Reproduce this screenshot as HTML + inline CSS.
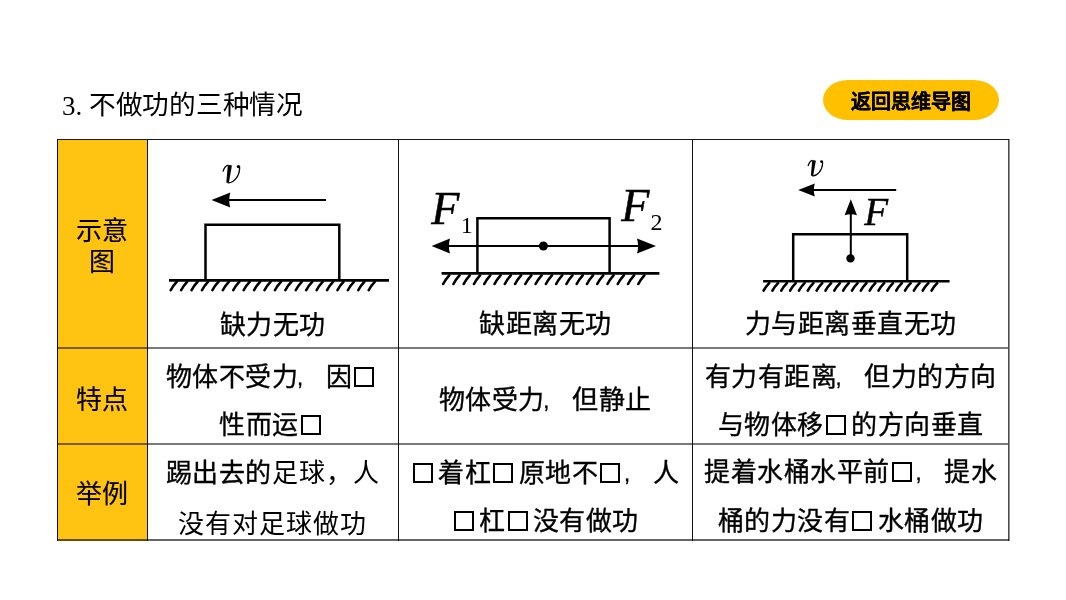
<!DOCTYPE html>
<html lang="zh-CN"><head><meta charset="utf-8"><style>
html,body{margin:0;padding:0;background:#fff;}
body{width:1066px;height:600px;position:relative;overflow:hidden;font-family:"Liberation Sans",sans-serif;color:#000;}
#wrap{position:absolute;left:0;top:0;width:1066px;height:600px;will-change:transform;}
.t{position:absolute;white-space:nowrap;text-align:center;font-size:26px;line-height:30px;letter-spacing:0.5px;text-indent:0.5px;-webkit-text-stroke:0.35px #000;}
.b{display:inline-block;width:16px;height:16px;border:2px solid #000;vertical-align:-1px;margin:0 5.3px 0 2px;}
.cm{display:inline-block;width:27.3px;text-align:left;padding-left:0;text-indent:-1.5px;vertical-align:1px;box-sizing:border-box;letter-spacing:0;font-size:22px;}
.lt{-webkit-text-stroke:0;color:#000;letter-spacing:1.1px;}
#title{position:absolute;left:62px;top:90px;font-size:26.67px;line-height:30px;white-space:nowrap;letter-spacing:-0.3px;}
#title .n{font-family:"Liberation Serif",serif;position:relative;top:1px;font-size:27px;letter-spacing:0;}
#pill{position:absolute;left:822.5px;top:79.5px;width:176px;height:40px;border-radius:25px/20px;background:#FFC000;}
#pill span{position:absolute;left:0;right:0;top:0;text-align:center;font-weight:bold;font-size:20px;-webkit-text-stroke:0.2px #000;line-height:40px;top:2.5px;}
svg{position:absolute;left:0;top:0;}
</style></head><body><div id="wrap">
<svg width="1066" height="600" viewBox="0 0 1066 600"><rect x="57" y="139" width="90" height="402" fill="#FFC312"/><rect x="57" y="139" width="952" height="1" fill="#1a1a1a"/><rect x="57" y="347" width="951" height="2" fill="rgba(0,0,0,0.52)"/><rect x="57" y="443" width="951" height="2" fill="rgba(0,0,0,0.52)"/><rect x="57" y="539" width="952" height="2" fill="rgba(0,0,0,0.6)"/><rect x="57" y="139" width="1" height="402" fill="#111"/><rect x="147" y="139" width="1" height="402" fill="#111"/><rect x="398" y="139" width="1" height="402" fill="#111"/><rect x="692" y="139" width="1" height="402" fill="#111"/><rect x="1008" y="139" width="1.6" height="402" fill="rgba(0,0,0,0.7)"/><g fill="none" stroke="#000" stroke-width="2.5"><path d="M205.5 280V224.8H339.3V280"/><path d="M169 280.4H389" stroke-width="2.6"/><path d="M222 200H326" stroke-width="2"/></g><path d="M211.5 200L230.3 192.4Q228.10000000000002 200 230.3 207.6Z" fill="#000"/><path d="M170.70 290.2Q172.56 286.30 176.90 281.6M181.12 290.2Q182.98 286.30 187.32 281.6M191.54 290.2Q193.40 286.30 197.74 281.6M201.96 290.2Q203.82 286.30 208.16 281.6M212.38 290.2Q214.24 286.30 218.58 281.6M222.80 290.2Q224.66 286.30 229.00 281.6M233.22 290.2Q235.08 286.30 239.42 281.6M243.64 290.2Q245.50 286.30 249.84 281.6M254.06 290.2Q255.92 286.30 260.26 281.6M264.48 290.2Q266.34 286.30 270.68 281.6M274.90 290.2Q276.76 286.30 281.10 281.6M285.32 290.2Q287.18 286.30 291.52 281.6M295.74 290.2Q297.60 286.30 301.94 281.6M306.16 290.2Q308.02 286.30 312.36 281.6M316.58 290.2Q318.44 286.30 322.78 281.6M327.00 290.2Q328.86 286.30 333.20 281.6M337.42 290.2Q339.28 286.30 343.62 281.6M347.84 290.2Q349.70 286.30 354.04 281.6M358.26 290.2Q360.12 286.30 364.46 281.6M368.68 290.2Q370.54 286.30 374.88 281.6" stroke="#000" stroke-width="2.6" stroke-linecap="round" fill="none"/><path d="M227.80 165.50C229.00 164.80 231.00 164.80 231.90 165.60L229.00 182.00C228.50 183.00 226.90 183.10 226.30 182.20Z" fill="#000"/><path d="M223.00 171.60C224.00 168.20 226.20 165.60 228.40 165.20 M227.60 182.70C233.50 183.60 239.30 176.50 239.60 168.50L239.50 166.60" fill="none" stroke="#000" stroke-width="1.3"/><circle cx="238.40" cy="166.60" r="1.65" fill="#000"/><g fill="none" stroke="#000" stroke-width="2.5"><path d="M477.4 273.4V218.2H609.6V273.4"/><path d="M441.6 273.4H659.4" stroke-width="2.6"/><path d="M445 246H645" stroke-width="2"/></g><path d="M431.6 246L450 238.4Q447.8 246 450 253.6Z" fill="#000"/><path d="M656 246L637 238.4Q639.2 246 637 253.6Z" fill="#000"/><circle cx="543.4" cy="246" r="4.5" fill="#000"/><path d="M443.20 284.0Q445.00 280.05 449.20 275.3M453.47 284.0Q455.27 280.05 459.47 275.3M463.74 284.0Q465.54 280.05 469.74 275.3M474.01 284.0Q475.81 280.05 480.01 275.3M484.28 284.0Q486.08 280.05 490.28 275.3M494.55 284.0Q496.35 280.05 500.55 275.3M504.82 284.0Q506.62 280.05 510.82 275.3M515.09 284.0Q516.89 280.05 521.09 275.3M525.36 284.0Q527.16 280.05 531.36 275.3M535.63 284.0Q537.43 280.05 541.63 275.3M545.90 284.0Q547.70 280.05 551.90 275.3M556.17 284.0Q557.97 280.05 562.17 275.3M566.44 284.0Q568.24 280.05 572.44 275.3M576.71 284.0Q578.51 280.05 582.71 275.3M586.98 284.0Q588.78 280.05 592.98 275.3M597.25 284.0Q599.05 280.05 603.25 275.3M607.52 284.0Q609.32 280.05 613.52 275.3M617.79 284.0Q619.59 280.05 623.79 275.3M628.06 284.0Q629.86 280.05 634.06 275.3M638.33 284.0Q640.13 280.05 644.33 275.3" stroke="#000" stroke-width="2.6" stroke-linecap="round" fill="none"/><g fill="none" stroke="#000" stroke-width="2.5"><path d="M793.2 281.3V234.2H907.2V281.3"/><path d="M763.1 281.3H949.6" stroke-width="2.6"/><path d="M808 190H896.2" stroke-width="2"/><path d="M850.8 258.4V212" stroke-width="2"/></g><path d="M798.2 190L814.8 183.5Q812.8 190 814.8 196.5Z" fill="#000"/><path d="M850.8 199.2L844.5999999999999 215.3Q850.8 213.3 857.0 215.3Z" fill="#000"/><circle cx="850.5" cy="258.4" r="4.2" fill="#000"/><path d="M763.60 290.6Q765.28 287.30 769.20 283.2M772.44 290.6Q774.12 287.30 778.04 283.2M781.28 290.6Q782.96 287.30 786.88 283.2M790.12 290.6Q791.80 287.30 795.72 283.2M798.96 290.6Q800.64 287.30 804.56 283.2M807.80 290.6Q809.48 287.30 813.40 283.2M816.64 290.6Q818.32 287.30 822.24 283.2M825.48 290.6Q827.16 287.30 831.08 283.2M834.32 290.6Q836.00 287.30 839.92 283.2M843.16 290.6Q844.84 287.30 848.76 283.2M852.00 290.6Q853.68 287.30 857.60 283.2M860.84 290.6Q862.52 287.30 866.44 283.2M869.68 290.6Q871.36 287.30 875.28 283.2M878.52 290.6Q880.20 287.30 884.12 283.2M887.36 290.6Q889.04 287.30 892.96 283.2M896.20 290.6Q897.88 287.30 901.80 283.2M905.04 290.6Q906.72 287.30 910.64 283.2M913.88 290.6Q915.56 287.30 919.48 283.2M922.72 290.6Q924.40 287.30 928.32 283.2M931.56 290.6Q933.24 287.30 937.16 283.2" stroke="#000" stroke-width="2.6" stroke-linecap="round" fill="none"/><path d="M812.22 160.64C813.28 160.02 815.04 160.02 815.83 160.73L813.28 175.16C812.84 176.04 811.43 176.13 810.90 175.34Z" fill="#000"/><path d="M808.00 166.01C808.88 163.02 810.82 160.73 812.75 160.38 M812.05 175.78C817.24 176.57 822.34 170.32 822.61 163.28L822.52 161.61" fill="none" stroke="#000" stroke-width="1.2"/><circle cx="821.55" cy="161.61" r="1.452" fill="#000"/></svg>
<div style="position:absolute;left:431.2px;top:183.5px;font-family:'Liberation Serif',serif;font-style:italic;font-size:46px;line-height:50px;-webkit-text-stroke:0.5px #000">F</div>
<div style="position:absolute;left:460.8px;top:211.5px;font-family:'Liberation Serif',serif;font-size:24px;line-height:26px">1</div>
<div style="position:absolute;left:621.3px;top:181px;font-family:'Liberation Serif',serif;font-style:italic;font-size:46px;line-height:50px;-webkit-text-stroke:0.5px #000">F</div>
<div style="position:absolute;left:650.5px;top:209px;font-family:'Liberation Serif',serif;font-size:24px;line-height:26px">2</div>
<div style="position:absolute;left:864.3px;top:190.3px;font-family:'Liberation Serif',serif;font-style:italic;font-size:39px;line-height:44px;-webkit-text-stroke:0.45px #000">F</div>
<div id="title"><span class="n">3. </span>不做功的三种情况</div>
<div id="pill"><span>返回思维导图</span></div>
<div class="t" style="left:57px;width:90px;top:215.7px;-webkit-text-stroke:0.15px #000;">示意</div>
<div class="t" style="left:57px;width:90px;top:246.7px;-webkit-text-stroke:0.15px #000;">图</div>
<div class="t" style="left:57px;width:90px;top:385px;-webkit-text-stroke:0.15px #000;">特点</div>
<div class="t" style="left:57px;width:90px;top:479.3px;-webkit-text-stroke:0.15px #000;">举例</div>
<div class="t" style="left:147px;width:251px;top:309.5px;">缺力无功</div>
<div class="t" style="left:398px;width:294px;top:309px;">缺距离无功</div>
<div class="t" style="left:692px;width:317px;top:308.7px;">力与距离垂直无功</div>
<div class="t" style="left:147px;width:251px;top:361.8px;">物体不受力<span class="cm">,</span>因<span class="b"></span></div>
<div class="t" style="left:147px;width:251px;top:409.9px;">性而运<span class="b"></span></div>
<div class="t" style="left:398px;width:294px;top:384.8px;">物体受力<span class="cm">,</span>但静止</div>
<div class="t" style="left:692px;width:317px;top:361.8px;">有力有距离<span class="cm">,</span>但力的方向</div>
<div class="t" style="left:692px;width:317px;top:409.7px;">与物体移<span class="b"></span>的方向垂直</div>
<div class="t" style="left:147px;width:251px;top:457.6px;"><span style="font-weight:500">踢出去的</span><span class="lt">足球，人</span></div>
<div class="t" style="left:147px;width:251px;top:508.8px;"><span class="lt">没有对足球做功</span></div>
<div class="t" style="left:398px;width:294px;top:458px;"><span class="b"></span>着杠<span class="b"></span>原地不<span class="b"></span><span class="cm">,</span>人</div>
<div class="t" style="left:398px;width:294px;top:505.9px;"><span class="b"></span>杠<span class="b"></span>没有做功</div>
<div class="t" style="left:692px;width:317px;top:457.1px;">提着水桶水平前<span class="b"></span><span class="cm">,</span>提水</div>
<div class="t" style="left:692px;width:317px;top:505.6px;">桶的力没有<span class="b"></span>水桶做功</div>
</div></body></html>
